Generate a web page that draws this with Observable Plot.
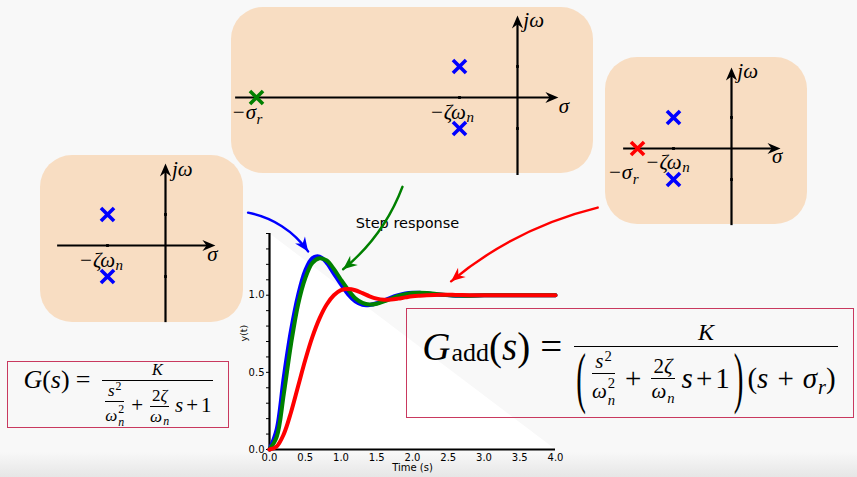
<!DOCTYPE html>
<html>
<head>
<meta charset="utf-8">
<script src="https://cdn.jsdelivr.net/npm/d3@7"></script>
<script src="https://cdn.jsdelivr.net/npm/@observablehq/plot@0.6"></script>
<style>
html,body{margin:0;padding:0;background:#f8f8f8;}
#root{position:relative;width:857px;height:477px;overflow:hidden;
  background:linear-gradient(to bottom,#f8f8f8 0,#f8f8f8 452px,#e6e6e6 477px);}
.pz{position:absolute;background:#f8ddc2;border-radius:32px;}
.pz svg{position:absolute;left:0;top:0;overflow:visible;}
#main{position:absolute;left:0;top:0;}
#main svg{overflow:visible;}
.eqbox{position:absolute;box-sizing:border-box;border:1.5px solid #c9395f;display:flex;align-items:center;justify-content:center;
  font-family:"Liberation Serif","DejaVu Serif",serif;color:#000;white-space:nowrap;}
.row{display:flex;align-items:flex-start;}
.lhs{display:flex;flex-direction:column;}
.mid0{height:0;display:flex;align-items:center;white-space:nowrap;}
.frac{display:flex;flex-direction:column;align-items:center;}
.num{text-align:center;}
.bar{align-self:stretch;border-top:1.2px solid #000;}
.den{display:flex;align-items:center;line-height:1.1;}
.ifrac{display:inline-flex;flex-direction:column;align-items:center;line-height:1.05;margin:0 2px;}
.ibar{align-self:stretch;border-top:1px solid #000;margin:1px 0;}
.ss{display:inline-flex;flex-direction:column;font-size:0.7em;line-height:1.12;vertical-align:0.68em;margin-left:1px;}
.sb{font-size:0.7em;position:relative;top:0.3em;margin-left:1px;}
.sp{font-size:0.7em;position:relative;top:-0.5em;margin-left:1px;}
.bigp{display:inline-block;transform:scaleY(2.3);}
i{font-style:italic;}
</style>
</head>
<body>
<div id="root">
  <div id="pz-left" class="pz"></div>
  <div id="pz-top" class="pz"></div>
  <div id="pz-right" class="pz"></div>
  <div id="main"></div>

  <div class="eqbox" style="left:7px;top:361px;width:222px;height:67px">
    <div class="row">
      <div class="lhs" style="font-size:26px"><div style="height:21px"></div>
        <div class="mid0"><i>G</i>(<i>s</i>)<span style="margin:0 12px 0 6px">=</span></div></div>
      <div class="frac">
        <div class="num" style="font-size:16px;height:21px;line-height:21px"><i>K</i></div>
        <div class="bar"></div>
        <div class="den" style="font-size:21px;padding:1px 1px 0 1px">
          <span class="ifrac" style="font-size:17px"><span><i>s</i><span class="sp">2</span></span><span class="ibar"></span><span><i>ω</i><span class="ss"><span>2</span><i>n</i></span></span></span>
          <span style="margin:0 5px">+</span>
          <span class="ifrac" style="font-size:17px"><span>2<i>ζ</i></span><span class="ibar"></span><span><i>ω</i><span class="sb"><i>n</i></span></span></span>
          <span style="margin-left:4px"><i>s</i><span style="margin:0 3px">+</span>1</span>
        </div>
      </div>
    </div>
  </div>

  <div class="eqbox" style="left:406px;top:308px;width:448px;height:110px">
    <div class="row">
      <div class="lhs" style="font-size:39px"><div style="height:28px"></div>
        <div class="mid0"><i>G</i><span style="font-size:26px;position:relative;top:7px;margin-left:1px">add</span>(<i>s</i>)<span style="margin:0 12px 0 10px">=</span></div></div>
      <div class="frac">
        <div class="num" style="font-size:24px;height:28px;line-height:28px"><i>K</i></div>
        <div class="bar"></div>
        <div class="den" style="font-size:29px;padding:3px 2px 0 2px">
          <span class="bigp">(</span>
          <span class="ifrac" style="font-size:21px;margin-left:6px"><span><i>s</i><span class="sp">2</span></span><span class="ibar"></span><span><i>ω</i><span class="ss"><span>2</span><i>n</i></span></span></span>
          <span style="margin:0 8px">+</span>
          <span class="ifrac" style="font-size:21px;margin-right:3px"><span>2<i>ζ</i></span><span class="ibar"></span><span><i>ω</i><span class="sb"><i>n</i></span></span></span>
          <span style="margin-left:4px"><i>s</i><span style="margin:0 3px">+</span>1</span>
          <span class="bigp" style="margin-left:4px">)</span>
          <span style="margin-left:4px">(<i>s</i><span style="margin:0 9px">+</span><i>σ</i><span class="sb"><i>r</i></span>)</span>
        </div>
      </div>
    </div>
  </div>
</div>
<script>
// ---------------- data: step responses ----------------
const time   = [0,0.1,0.2,0.3,0.4,0.5,0.6,0.7,0.8,0.9,1.0,1.1,1.2,1.3,1.4,1.5,1.6,1.7,1.8,1.9,2.0,2.1,2.2,2.4,2.6,2.8,3.0,3.2,3.4,3.6,3.8,4.0];
const yBlue  = [0,0.13,0.47,0.77,1.0,1.16,1.24,1.25,1.21,1.14,1.07,1.005,0.96,0.938,0.937,0.948,0.966,0.985,1.0,1.011,1.016,1.016,1.012,1.003,0.997,0.997,0.999,1.0,1.0,1.0,1.0,1.0];
const yGreen = [0,0.08,0.36,0.68,0.94,1.11,1.21,1.24,1.225,1.17,1.10,1.035,0.98,0.95,0.94,0.945,0.96,0.978,0.995,1.007,1.014,1.016,1.014,1.005,0.998,0.997,0.999,1.0,1.0,1.0,1.0,1.0];
const yRed   = [0,0.02,0.10,0.24,0.41,0.58,0.73,0.85,0.94,1.0,1.033,1.04,1.032,1.013,0.993,0.978,0.971,0.972,0.978,0.986,0.993,0.997,1.0,1.003,1.002,1.0,1.0,1.0,1.0,1.0,1.0,1.0];
const seriesNames  = ["G(s)", "G(s) + far pole", "G(s) + near pole"];
const seriesValues = [yBlue, yGreen, yRed];

// axes
const xDomain = [0, 4];
const yDomain = [0, 1.4];
const xTicks  = [0, 0.5, 1.0, 1.5, 2.0, 2.5, 3.0, 3.5, 4.0];
const yTicks  = [0, 0.1, 0.2, 0.3, 0.4, 0.5, 0.6, 0.7, 0.8, 0.9, 1.0, 1.1, 1.2, 1.3, 1.4];
const yTickLabels = [0, 0.5, 1.0];
const xLabel = "Time (s)";
const yLabel = "y(t)";
const title  = "Step response";

// annotation arrows from the pole plots to the curves (data coords of the step plot)
const arrowSeries = ["G(s)", "G(s) + far pole", "G(s) + near pole"];
const arrowStart  = [[-0.30, 1.535], [1.86, 1.703], [4.59, 1.568]];
const arrowEnd    = [[0.54, 1.284], [1.03, 1.168], [2.54, 1.09]];
const arrowBend   = [22, 15, -13];

// ---------------- data: pole-zero sketches ----------------
const diagrams     = ["left", "top", "right"];
const complexPoles = [{re: -2, im: 1.07}, {re: -2, im: -1.07}];
const addedPoleRe  = {top: -9.0, right: -3.24};
const axisTickIm   = [1.07, -1.07];

// ---------------- styles / layout ----------------
const colors = {"G(s)": "#0000ff", "G(s) + far pole": "#008000", "G(s) + near pole": "#ff0000"};
const addedColor = {top: "#008000", right: "#ff0000"};
const W = 857, H = 477;
const M = {left: 269, right: 302, top: 233, bottom: 28};
const UNIT = 29;
const ZW = "−ζω", SR = "−σ";
const pzLayout = {
  left:  {left: 40,  top: 155, width: 203, height: 167, ox: 125, oy: 90, axisX: [-3.72, 1.72], axisY: [-2.66, 2.83],
          labels: [{x: 0.22, y: 2.38, main: "jω"}, {x: 1.44, y: -0.52, main: "σ"}, {x: -2.99, y: -0.75, main: ZW, sub: "n"}]},
  top:   {left: 231, top: 7,   width: 362, height: 166, ox: 286, oy: 90, axisX: [-9.72, 1.41], axisY: [-2.69, 2.83],
          labels: [{x: 0.2, y: 2.42, main: "jω"}, {x: 1.42, y: -0.54, main: "σ"}, {x: -3.03, y: -0.73, main: ZW, sub: "n"},
                   {x: -9.86, y: -0.73, main: SR, sub: "r"}]},
  right: {left: 605, top: 57,  width: 202, height: 167, ox: 126, oy: 91, axisX: [-3.72, 1.69], axisY: [-2.66, 2.79],
          labels: [{x: 0.2, y: 2.42, main: "jω"}, {x: 1.40, y: -0.51, main: "σ"}, {x: -2.97, y: -0.72, main: ZW, sub: "n"},
                   {x: -4.27, y: -1.04, main: SR, sub: "r"}]}
};

// stealth-shaped arrow head, tip at the anchor, pointing up before rotation
const stealth = {
  draw(ctx, size) {
    const L = Math.sqrt(size / Math.PI), w = 0.43 * L;
    ctx.moveTo(0, 0); ctx.lineTo(w, L); ctx.lineTo(0, 0.68 * L); ctx.lineTo(-w, L); ctx.closePath();
  }
};

const mctx = document.createElement("canvas").getContext("2d");
function textWidth(str, size) {
  mctx.font = `italic ${size}px "Liberation Serif"`;
  return mctx.measureText(str).width;
}

// ---------------- pole-zero sketches ----------------
const LBL = 21, SUB = 15;
for (const name of diagrams) {
  const d = pzLayout[name];
  const host = document.getElementById("pz-" + name);
  Object.assign(host.style, {left: d.left + "px", top: d.top + "px", width: d.width + "px", height: d.height + "px"});
  const heads = [{x: d.axisX[1], y: 0, a: 90}, {x: 0, y: d.axisY[1], a: 0}];
  const ticks = [...axisTickIm.map(im => ({x: 0, y: im})), {x: complexPoles[0].re, y: 0}];
  const extra = addedPoleRe[name] !== undefined ? [{re: addedPoleRe[name], im: 0}] : [];
  const subs = d.labels.filter(l => l.sub);
  const svg = Plot.plot({
    width: d.width, height: d.height, margin: 0,
    x: {domain: [-d.ox / UNIT, (d.width - d.ox) / UNIT], axis: null},
    y: {domain: [-(d.height - d.oy) / UNIT, d.oy / UNIT], axis: null},
    style: {background: "transparent", overflow: "visible"},
    marks: [
      Plot.ruleY([0], {x1: d.axisX[0], x2: d.axisX[1] - 0.2, stroke: "black", strokeWidth: 2.2}),
      Plot.ruleX([0], {y1: d.axisY[0], y2: d.axisY[1] - 0.2, stroke: "black", strokeWidth: 2.2}),
      Plot.dot(heads, {x: "x", y: "y", rotate: "a", symbol: stealth, r: 13, fill: "black", stroke: "none"}),
      Plot.dot(ticks, {x: "x", y: "y", symbol: "square", r: 1.6, fill: "black", stroke: "none"}),
      Plot.dot(complexPoles, {x: "re", y: "im", symbol: "times", r: 6, stroke: "#0000ff", strokeWidth: 3.6}),
      Plot.dot(extra, {x: "re", y: "im", symbol: "times", r: 6, stroke: addedColor[name] || "black", strokeWidth: 3.6}),
      Plot.text(d.labels, {x: "x", y: "y", text: "main", textAnchor: "start", lineAnchor: "bottom",
        fontFamily: "Liberation Serif", fontStyle: "italic", fontSize: LBL, fill: "black"}),
      ...subs.map(l => Plot.text([l], {x: "x", y: "y", text: "sub", textAnchor: "start", lineAnchor: "bottom",
        dx: textWidth(l.main, LBL) + 0.5, dy: l.sub === "r" ? 5 : 3,
        fontFamily: "Liberation Serif", fontStyle: "italic", fontSize: SUB, fill: "black"}))
    ]
  });
  host.appendChild(svg);
}

// ---------------- step response ----------------
const rows = seriesNames.flatMap((s, k) => time.map((t, i) => ({t, y: seriesValues[k][i], series: s})));
const triangle = [{t: xDomain[0], y: yDomain[1]}, {t: xDomain[1], y: yDomain[0]}];
const px = t => M.left + (t - xDomain[0]) / (xDomain[1] - xDomain[0]) * (W - M.left - M.right);
const py = v => M.top + (yDomain[1] - v) / (yDomain[1] - yDomain[0]) * (H - M.top - M.bottom);
const arrows = arrowSeries.map((s, i) => ({series: s, x1: arrowStart[i][0], y1: arrowStart[i][1], x2: arrowEnd[i][0], y2: arrowEnd[i][1], bend: arrowBend[i]}));
const arrowHeads = arrows.map(a => ({
  series: a.series, x: a.x2, y: a.y2,
  angle: Math.atan2(py(a.y2) - py(a.y1), px(a.x2) - px(a.x1)) * 180 / Math.PI + a.bend + 90
}));

const main = Plot.plot({
  width: W, height: H,
  marginLeft: M.left, marginRight: M.right, marginTop: M.top, marginBottom: M.bottom,
  style: {background: "transparent", fontFamily: "'DejaVu Sans', sans-serif", fontSize: "10px", color: "black", overflow: "visible"},
  x: {domain: xDomain, ticks: xTicks, tickFormat: d => d.toFixed(1), tickSize: 0, tickPadding: 4, label: null},
  y: {domain: yDomain, ticks: yTicks, tickFormat: d => yTickLabels.some(v => Math.abs(v - d) < 1e-9) ? d.toFixed(1) : "", tickSize: 3, tickPadding: 2, label: null},
  color: {domain: seriesNames, range: seriesNames.map(s => colors[s])},
  marks: [
    Plot.areaY(triangle, {x: "t", y: "y", fill: "white"}),
    Plot.ruleX([0], {stroke: "black", strokeWidth: 2.2}),
    Plot.ruleY([0], {stroke: "black", strokeWidth: 2.2}),
    Plot.line(rows, {x: "t", y: "y", z: "series", stroke: "series", strokeWidth: 4, curve: "catmull-rom"}),
    Plot.text([title], {text: d => d, x: 1.93, y: 1.465, fontSize: 14.5, fill: "black"}),
    ...arrows.map(a => Plot.arrow([a], {x1: "x1", y1: "y1", x2: "x2", y2: "y2", bend: a.bend, stroke: colors[a.series], strokeWidth: 2.4, headLength: 0})),
    Plot.dot(arrowHeads, {x: "x", y: "y", rotate: "angle", symbol: stealth, r: 14, fill: "series", stroke: "none"}),
    Plot.text([yLabel], {text: d => d, frameAnchor: "left", rotate: -90, dx: -26, fontSize: 9.5, fill: "black"}),
    Plot.text([xLabel], {text: d => d, frameAnchor: "bottom", dy: 21, fontSize: 10, fill: "black"})
  ]
});
document.getElementById("main").appendChild(main);
</script>
</body>
</html>
